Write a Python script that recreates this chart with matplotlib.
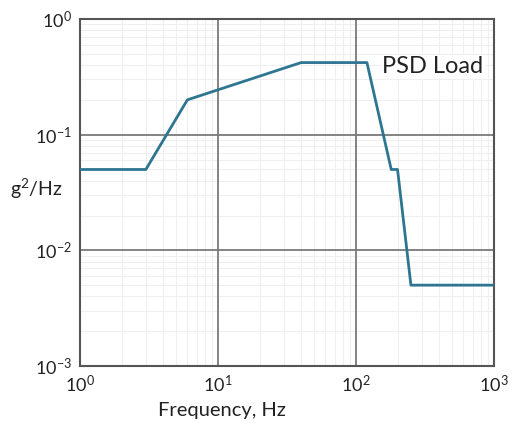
import matplotlib
matplotlib.use("Agg")
import matplotlib.pyplot as plt
from matplotlib.ticker import LogLocator, NullFormatter

plt.rcParams['font.family'] = ['Lato', 'DejaVu Sans']
plt.rcParams['mathtext.fontset'] = 'custom'
plt.rcParams['mathtext.rm'] = 'Lato'
plt.rcParams['mathtext.it'] = 'Lato:italic'
plt.rcParams['mathtext.bf'] = 'Lato:bold'

freq = [1, 3, 6, 40, 120, 180, 200, 250, 1000]
psd = [0.05, 0.05, 0.2, 0.42, 0.42, 0.05, 0.05, 0.005, 0.005]
x_major = [10, 100]
y_major = [0.1, 0.01]

fig = plt.figure(figsize=(5.13, 4.26), dpi=100)
ax = fig.add_axes([80/513, 1-366/426, (494-80)/513, (366-19)/426])
ax.set_xscale('log')
ax.set_yscale('log')
ax.set_xlim(1, 1000)
ax.set_ylim(1e-3, 1)

ax.xaxis.set_minor_locator(LogLocator(base=10, subs=range(2, 10), numticks=20))
ax.yaxis.set_minor_locator(LogLocator(base=10, subs=range(2, 10), numticks=20))
ax.xaxis.set_minor_formatter(NullFormatter())
ax.yaxis.set_minor_formatter(NullFormatter())

ax.grid(True, which='minor', color='#efefef', linewidth=0.8, zorder=0)
ax.grid(False, which='major')
for xv in x_major:
    ax.axvline(xv, color='#7a7a7a', linewidth=1.3, zorder=1)
for yv in y_major:
    ax.axhline(yv, color='#7a7a7a', linewidth=1.3, zorder=1)
ax.set_axisbelow(True)

ax.plot(freq, psd, color='#2e7591', linewidth=2.0, zorder=3)

for s in ax.spines.values():
    s.set_color('#555555')
    s.set_linewidth(1.5)
ax.tick_params(which='both', length=0, labelsize=13, colors='#222222', pad=6)

ax.set_xlabel('Frequency, Hz', fontsize=14.5, color='#222222', va='top')
ax.xaxis.set_label_coords(0.343, -0.105)
ax.set_ylabel('g$^2$/Hz', fontsize=14, color='#222222', rotation=0,
              ha='center', va='center')
ax.yaxis.set_label_coords(-0.106, 0.51)
ax.text(0.73, 0.862, 'PSD Load', transform=ax.transAxes, fontsize=17,
        color='#222222', va='center', ha='left', zorder=4,
        bbox=dict(facecolor='white', edgecolor='none', pad=1))

fig.savefig('out.png', dpi=100)
